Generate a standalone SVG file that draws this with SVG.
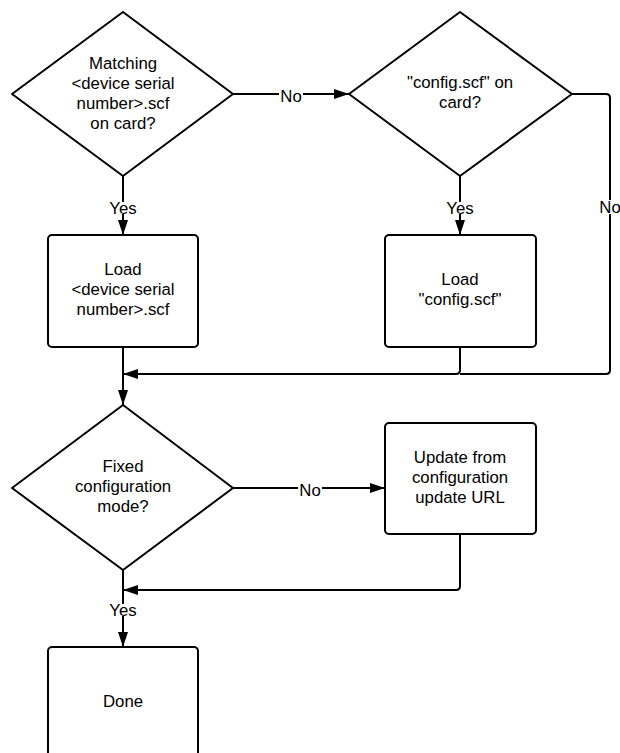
<svg xmlns="http://www.w3.org/2000/svg" width="620" height="753" viewBox="0 0 620 753">
<defs>
<style>
.shape{fill:#fff;stroke:#000;stroke-width:2;stroke-linejoin:round}
.conn{fill:none;stroke:#000;stroke-width:2}
.t{font-family:"Liberation Sans",Arial,sans-serif;font-size:16.8px;fill:#000;text-anchor:middle}
.lbl{font-family:"Liberation Sans",Arial,sans-serif;font-size:16.8px;fill:#000;text-anchor:middle}
.bg{fill:#fff}
</style>
<marker id="arr" markerWidth="15" markerHeight="10" refX="15" refY="5" orient="auto" markerUnits="userSpaceOnUse">
<path d="M0,0 L15,5 L0,10 Z" fill="#000"/>
</marker>
</defs>
<rect width="620" height="753" fill="#fff"/>

<g id="connectors">
<path class="conn" d="M123,176 V235" marker-end="url(#arr)"/>
<path class="conn" d="M233,94 H349" marker-end="url(#arr)"/>
<path class="conn" d="M460,176 V235" marker-end="url(#arr)"/>
<path class="conn" d="M572,94 H606 Q610,94 610,98 V370 Q610,374 606,374 H460"/>
<path class="conn" d="M460,347 V370 Q460,374 456,374 H123" marker-end="url(#arr)"/>
<path class="conn" d="M123,347 V405" marker-end="url(#arr)"/>
<path class="conn" d="M233,488 H385" marker-end="url(#arr)"/>
<path class="conn" d="M460,534 V586 Q460,590 456,590 H123" marker-end="url(#arr)"/>
<path class="conn" d="M123,570 V647" marker-end="url(#arr)"/>
<rect class="bg" x="279" y="87" width="24" height="16"/>
<text class="lbl" x="291" y="102">No</text>
<rect class="bg" x="107" y="202" width="32" height="12"/>
<text class="lbl" x="123" y="214">Yes</text>
<rect class="bg" x="444" y="202" width="32" height="12"/>
<text class="lbl" x="460" y="214">Yes</text>
<rect class="bg" x="598" y="200" width="24" height="14"/>
<text class="lbl" x="610" y="213">No</text>
<rect class="bg" x="298" y="481" width="24" height="16"/>
<text class="lbl" x="310" y="496">No</text>
<rect class="bg" x="107" y="604" width="32" height="12"/>
<text class="lbl" x="123" y="616">Yes</text>
</g>

<g id="decision1">
<path class="shape" d="M123,12 L233,94 L123,176 L12,94 Z"/>
<text class="t" x="123" y="69">Matching</text>
<text class="t" x="123" y="89">&lt;device serial</text>
<text class="t" x="123" y="109">number&gt;.scf</text>
<text class="t" x="123" y="129">on card?</text>
</g>

<g id="decision2">
<path class="shape" d="M460,12 L572,94 L460,176 L349,94 Z"/>
<text class="t" x="460" y="88">"config.scf" on</text>
<text class="t" x="460" y="108">card?</text>
</g>

<g id="load-serial">
<rect class="shape" x="48" y="235" width="150" height="112" rx="4"/>
<text class="t" x="123" y="275">Load</text>
<text class="t" x="123" y="295">&lt;device serial</text>
<text class="t" x="123" y="315">number&gt;.scf</text>
</g>

<g id="load-config">
<rect class="shape" x="385" y="235" width="151" height="112" rx="4"/>
<text class="t" x="460" y="285">Load</text>
<text class="t" x="460" y="305">"config.scf"</text>
</g>

<g id="decision3">
<path class="shape" d="M123,405 L233,488 L123,570 L12,488 Z"/>
<text class="t" x="123" y="472">Fixed</text>
<text class="t" x="123" y="492">configuration</text>
<text class="t" x="123" y="512">mode?</text>
</g>

<g id="update-url">
<rect class="shape" x="385" y="423" width="151" height="111" rx="4"/>
<text class="t" x="460" y="463">Update from</text>
<text class="t" x="460" y="483">configuration</text>
<text class="t" x="460" y="503">update URL</text>
</g>

<g id="done">
<rect class="shape" x="48" y="647" width="150" height="130" rx="4"/>
<text class="t" x="123" y="707">Done</text>
</g>
</svg>
